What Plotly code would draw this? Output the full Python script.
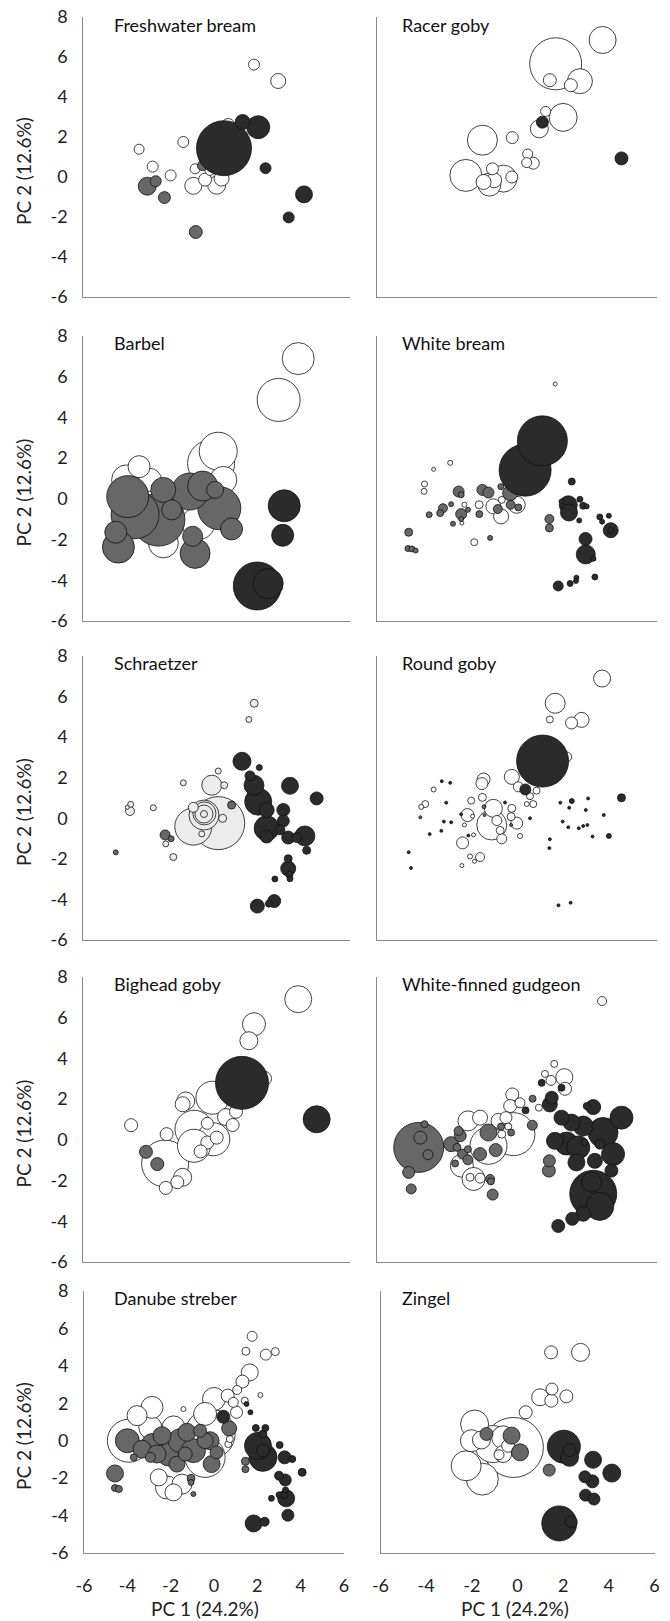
import plotly.graph_objects as go

# ---------------- data: (PC1, PC2, bubble size) per panel and group ----------------
PANELS = ["Freshwater bream", "Racer goby", "Barbel", "White bream", "Schraetzer",
          "Round goby", "Bighead goby", "White-finned gudgeon", "Danube streber", "Zingel"]

FB_WHITE = [(1.68,5.62,11),(2.77,4.80,15),(-3.49,1.39,10),(-1.50,1.75,11),(-2.88,0.52,11),(-2.07,0.08,11),
            (-0.97,0.41,10),(-1.05,-0.44,17),(-0.52,-0.13,13),(0.0,-0.41,18),(0.22,-0.08,15),(0.52,2.6,13),(-0.3,0.33,10)]
FB_GRAY = [(-3.12,-0.46,18),(-2.74,-0.21,11),(-2.35,-1.03,12),(-0.94,-2.75,13),(-0.64,0.57,10)]
FB_DARK = [(0.33,1.44,55),(1.17,2.75,15),(1.87,2.49,23),(2.2,0.44,11),(3.93,-0.87,17),(3.24,-2.02,11)]

RG_WHITE = [(3.68,6.85,27),(1.67,5.66,52),(2.71,4.79,25),(1.42,4.84,13),(2.32,4.59,13),(1.99,2.98,28),(1.24,3.28,10),
            (0.97,2.41,18),(-1.47,1.84,30),(-0.19,1.97,12),(0.47,1.15,10),(0.43,0.72,10),(0.71,0.69,12),(-2.18,0.08,32),
            (-0.57,-0.08,27),(-1.17,-0.38,23),(-1.04,0.41,12),(-0.97,-0.16,15),(-0.21,0.0,12),(-1.42,-0.25,15)]
RG_GRAY = []
RG_DARK = [(1.10,2.74,12),(4.49,0.93,13)]

BA_WHITE = [(3.67,6.89,32),(2.79,4.86,43),(0.07,2.34,38),(-0.25,1.74,47),(-3.49,1.58,22),(-3.0,0.93,23),(-4.05,0.93,30),
            (-2.4,-2.16,30),(-0.82,-1.19,33),(0.3,0.93,27)]
BA_GRAY = [(-4.0,0.11,42),(-3.67,-0.78,48),(-2.62,-1.02,53),(-2.4,0.44,25),(-2.02,-0.54,20),(-1.2,0.36,37),(-0.63,0.63,30),
           (0.12,-0.46,43),(0.67,-1.48,22),(-4.54,-1.64,22),(-4.42,-2.37,32),(-1.08,-1.84,20),(-0.97,-2.68,30),(-0.07,0.44,17)]
BA_DARK = [(1.83,-4.28,48),(2.32,-4.16,30),(3.04,-0.34,32),(2.97,-1.79,22)]

WB_WHITE = [(1.65,5.64,4),(-2.85,1.77,5),(-3.56,1.45,4),(-3.95,0.73,6),(-3.97,0.37,6),(-2.24,-0.29,5),(-2.35,-1.19,4),
            (-1.82,-2.13,7),(-1.61,-0.29,8),(-1.0,-0.37,15),(-0.67,-0.86,15),(0.0,-0.29,17),(-0.64,-0.05,7)]
WB_GRAY = [(-4.63,-1.64,8),(-4.66,-2.44,6),(-4.49,-2.46,6),(-4.33,-2.54,5),(-3.75,-0.78,6),(-3.16,-0.46,9),(-3.28,-0.7,7),
           (-2.81,-0.26,5),(-2.73,-1.22,5),(-2.49,0.36,11),(-2.38,0.2,6),(-2.38,-0.75,11),(-2.38,-0.99,5),(-2.09,-0.54,5),
           (-1.6,-0.75,7),(-1.47,0.44,11),(-1.21,0.31,11),(-0.68,0.6,6),(-0.28,0.28,15),(-0.26,-0.29,9),(-0.81,-0.5,9),
           (0.07,-0.42,7),(-1.14,-1.92,5),(1.4,-0.99,9),(1.4,-1.43,8)]
WB_DARK = [(1.1,2.85,50),(0.36,1.41,52),(2.36,0.85,7),(2.21,-0.29,18),(2.24,-0.67,17),(2.71,-0.02,6),(2.85,-0.34,7),
           (3.0,-0.37,5),(1.92,-0.13,5),(2.68,-1.06,5),(3.56,-0.89,6),(3.66,-1.12,5),(3.95,-0.83,5),(4.03,-1.54,15),
           (4.03,-1.54,6),(2.95,-1.97,13),(2.96,-2.73,19),(3.29,-2.94,5),(3.35,-3.84,6),(2.56,-3.87,5),(2.54,-4.03,5),
           (2.29,-4.16,6),(1.78,-4.28,10)]

SC_LIGHT = [(1.69,5.67,8),(1.45,4.87,6),(0.07,2.33,6),(-1.5,1.75,6),(-0.22,1.63,20),(0.34,1.63,7),(-3.87,0.69,6),
            (-3.9,0.36,9),(-4.02,0.54,4),(-2.85,0.52,6),(-1.05,-0.41,37),(0.07,-0.24,53),(-0.55,0.24,23),(-0.57,0.16,30),
            (-0.57,0.21,18),(-0.57,0.21,7),(0.27,0.0,8),(-0.67,-0.77,6),(-2.29,-1.26,6),(-1.95,-1.91,7),(-1.05,0.54,10)]
SC_GRAY = [(-4.54,-1.68,5),(-2.32,-0.82,10),(-2.05,-1.01,6),(0.67,0.65,8)]
SC_DARK = [(1.14,2.81,18),(1.92,2.5,6),(1.5,2.09,10),(1.68,1.63,20),(1.87,0.82,27),(2.25,0.41,15),(3.3,1.6,17),
           (4.5,0.98,13),(3.0,0.41,13),(3.0,-0.13,12),(2.25,-0.49,25),(2.25,-0.9,13),(3.22,-0.95,13),(3.6,-0.95,10),
           (3.97,-0.87,20),(4.05,-1.58,8),(3.22,-1.99,8),(3.22,-2.48,15),(3.27,-2.78,7),(3.3,-2.98,6),(2.62,-2.99,6),
           (1.83,-4.33,14),(2.59,-4.08,13),(2.35,-4.21,7),(2.85,-0.57,10)]

RO_WHITE = [(3.66,6.89,17),(1.65,5.67,20),(1.42,4.87,7),(2.35,4.7,12),(2.78,4.85,15),(2.14,3.02,10),(-0.21,2.04,15),
            (-1.42,1.91,13),(-1.49,1.71,12),(0.07,1.55,10),(-3.56,1.42,5),(-3.92,0.7,7),(-4.09,0.56,5),(-1.95,0.87,7),
            (-1.47,1.03,8),(-1.0,0.49,18),(-2.11,0.16,13),(-1.07,-0.33,30),(-0.85,-0.11,10),(-0.21,0.49,8),(0.0,-0.24,12),
            (-0.24,0.08,8),(-0.71,-0.6,8),(-0.64,-1.01,10),(-2.32,-1.21,12),(-1.57,-1.91,9),(-2.0,-1.88,5),(0.14,-0.87,5),
            (0.57,1.09,7),(0.43,0.7,5),(0.71,0.7,7),(0.85,1.36,7),(-1.85,-0.82,4),(-2.35,-2.33,4),(-1.81,-2.12,4),
            (-2.24,-0.33,4),(-1.89,0.1,4)]
RO_GRAY = [(-1.4,0.57,4),(-1.38,0.16,3),(-0.24,-0.33,3),(-4.13,0.05,3)]
RO_DARK = [(1.11,2.82,52),(0.37,1.42,11),(4.49,1.01,8),(2.36,0.85,5),(3.95,-0.87,5),
           (-3.21,1.83,3),(-2.85,1.75,3),(-3.02,0.77,3),(-4.63,-1.67,3),(-4.53,-2.45,3),(-3.73,-0.78,3),(-3.23,-0.62,3),
           (-3.12,-0.16,3),(-2.81,-0.2,3),(-2.38,0.2,3),(-2.07,-0.85,3),(-0.5,0.78,3),(0.57,0.0,3),(1.42,-1.03,3),
           (1.4,-1.47,3),(1.87,0.77,3),(2.25,0.52,3),(1.97,-0.16,3),(2.21,-0.44,3),(2.66,-0.49,3),(2.85,-0.38,3),
           (3.03,-0.33,3),(2.96,0.41,3),(3.06,0.98,3),(3.73,0.16,3),(3.25,-0.9,3),(1.79,-4.29,3),(2.31,-4.16,3)]

BG_WHITE = [(3.67,6.91,27),(1.68,5.68,23),(1.45,4.87,18),(2.13,3.01,15),(-0.19,2.07,33),(-1.39,1.91,18),(-1.53,1.75,15),
            (-3.85,0.72,13),(-2.25,0.28,13),(-1.02,0.52,38),(-0.42,0.81,12),(0.72,0.73,13),(0.87,1.38,13),(0.42,1.12,17),
            (-0.15,0.03,33),(-1.02,-0.29,33),(-0.42,-0.13,13),(-0.72,-0.57,13),(-2.32,-1.16,47),(-1.53,-1.84,18),
            (-1.77,-2.08,13),(-2.29,-2.36,13),(0.0,0.11,13)]
BG_GRAY = [(-3.18,-0.59,13),(-2.67,-1.19,13)]
BG_DARK = [(1.14,2.8,53),(4.5,1.01,27)]

WG_WHITE = [(3.66,6.82,9),(1.61,3.73,7),(2.04,3.08,17),(1.21,3.24,7),(1.47,2.92,10),(2.07,2.51,13),(-0.19,2.23,13),
            (-0.28,1.66,13),(0.14,1.82,10),(0.95,1.58,7),(-2.09,0.93,20),(-1.57,1.09,15),(-0.78,0.93,15),(-0.46,1.09,12),
            (-0.14,0.28,43),(-1.21,-0.29,37),(-2.35,-1.27,23),(-1.85,-1.92,23),(-2.0,-1.84,8),(-1.57,-1.88,10),
            (-0.64,0.28,8),(-0.36,0.65,7)]
WG_GRAY = [(-4.2,-0.37,50),(-4.13,0.11,13),(-3.8,-0.73,10),(-3.95,0.77,7),(-4.63,-1.6,12),(-4.52,-2.41,10),(-2.81,-0.21,15),
           (-2.42,0.2,12),(-2.49,0.44,9),(-2.56,-0.37,8),(-2.09,-0.46,7),(-2.32,-0.7,10),(-2.09,-0.98,10),(-2.64,-1.16,7),
           (-1.57,-0.7,13),(-1.21,0.36,17),(-0.9,-0.5,13),(-0.67,0.65,7),(-0.24,0.36,7),(0.67,0.72,10),(0.68,2.02,7),
           (1.4,-1.03,12),(1.38,-1.51,13),(-1.14,-1.92,9),(-1.03,-2.69,11),(-1.11,-2.04,7)]
WG_DARK = [(1.92,2.56,7),(1.07,2.8,7),(0.38,1.45,7),(1.5,2.07,13),(1.42,1.74,15),(3.28,1.61,15),(4.49,1.09,23),
           (1.92,1.09,15),(2.35,0.85,17),(2.85,0.68,20),(3.7,0.36,30),(2.14,-0.18,23),(2.64,-0.37,23),(3.56,-0.21,10),
           (4.13,-0.7,23),(3.35,-1.03,15),(4.06,-1.51,13),(2.9,-0.13,7),(3.28,-2.65,47),(3.56,-3.27,28),(3.21,-2.08,20),
           (2.38,-3.88,13),(1.78,-4.23,13),(2.85,-3.63,15),(2.56,-1.11,17),(1.64,-0.05,17),(3.0,1.66,7)]

DS_WHITE = [(1.76,5.58,10),(1.47,4.78,8),(2.39,4.6,11),(2.83,4.76,8),(1.65,3.65,17),(1.31,3.16,13),(1.07,2.71,9),
            (2.14,2.44,5),(0.0,2.23,23),(0.63,2.41,13),(0.89,2.05,10),(1.04,1.52,12),(1.42,2.14,7),(-1.41,1.69,5),
            (-2.86,1.78,22),(-3.55,1.34,20),(-3.93,0.0,43),(-2.94,0.71,23),(-1.87,0.71,23),(-0.41,1.43,23),(-0.18,0.36,50),
            (-0.41,-0.89,40),(-2.17,-2.5,23),(-1.48,-2.32,20),(-1.87,-2.76,17),(-2.55,-1.96,17),(0.66,-0.18,7),(0.73,0.09,7)]
DS_GRAY = [(-4.57,-1.75,17),(-4.57,-2.53,7),(-4.39,-2.58,7),(-4.0,0.0,24),(-3.7,-0.89,7),(-3.32,-0.45,18),(-2.86,-0.18,21),
           (-2.4,0.27,18),(-2.09,-0.71,24),(-2.63,-0.71,18),(-2.94,-0.89,10),(-1.56,0.0,24),(-1.25,0.45,18),(-0.95,-0.53,24),
           (-0.64,0.53,13),(-0.18,0.0,18),(-0.11,-1.25,17),(0.12,-0.62,13),(-0.41,0.0,16),(0.7,0.66,15),(-1.06,-2.01,8),
           (-1.06,-2.23,6),(-0.95,-2.85,5),(1.45,-1.1,8),(1.45,-1.52,7),(-1.33,-0.71,14),(-1.71,-1.25,16)]
DS_DARK = [(0.43,1.28,13),(1.5,1.96,5),(1.68,1.52,5),(1.93,0.68,7),(2.37,0.68,7),(2.26,0.36,8),(2.03,-0.27,27),
           (2.26,-0.89,28),(2.26,-0.53,13),(3.03,-0.23,7),(3.26,-0.89,13),(3.61,-0.98,7),(4.07,-1.69,8),(3.0,-1.87,9),
           (3.29,-2.1,12),(3.3,-2.63,6),(3.26,-2.91,7),(3.0,-2.89,6),(3.33,-3.08,17),(2.65,-3.08,6),(3.41,-3.98,12),
           (1.83,-4.42,17),(2.34,-4.33,9)]

ZI_WHITE = [(1.47,4.72,13),(2.76,4.72,18),(1.51,2.76,12),(0.99,2.32,17),(1.48,2.14,13),(2.14,2.37,13),(0.36,1.52,13),
            (-1.88,0.89,28),(-2.02,0.0,22),(-2.25,-1.34,30),(-1.54,-2.05,32),(-1.07,-0.18,37),(-0.18,-0.36,60),
            (-0.63,0.18,23),(-1.58,0.04,18),(-0.63,-0.71,17),(-0.81,-0.75,10),(-0.41,-0.27,13)]
ZI_GRAY = [(-1.36,0.36,13),(-0.26,0.27,17),(0.11,-0.62,17),(1.39,-1.57,12)]
ZI_DARK = [(2.03,-0.32,33),(2.28,-0.89,18),(2.28,-0.5,13),(3.31,-1.02,17),(4.13,-1.73,18),(2.95,-1.93,12),
           (3.28,-2.17,13),(2.98,-2.91,12),(3.35,-3.12,12),(1.83,-4.42,35),(2.35,-4.33,12)]

PANEL_DATA = [
    [("#ffffff", FB_WHITE), ("#676767", FB_GRAY), ("#2b2b2b", FB_DARK)],
    [("#ffffff", RG_WHITE), ("#676767", RG_GRAY), ("#2b2b2b", RG_DARK)],
    [("#ffffff", BA_WHITE), ("#676767", BA_GRAY), ("#2b2b2b", BA_DARK)],
    [("#ffffff", WB_WHITE), ("#676767", WB_GRAY), ("#2b2b2b", WB_DARK)],
    [("#ececec", SC_LIGHT), ("#676767", SC_GRAY), ("#2b2b2b", SC_DARK)],
    [("#ffffff", RO_WHITE), ("#676767", RO_GRAY), ("#2b2b2b", RO_DARK)],
    [("#ffffff", BG_WHITE), ("#676767", BG_GRAY), ("#2b2b2b", BG_DARK)],
    [("#ffffff", WG_WHITE), ("#676767", WG_GRAY), ("#2b2b2b", WG_DARK)],
    [("#ffffff", DS_WHITE), ("#676767", DS_GRAY), ("#2b2b2b", DS_DARK)],
    [("#ffffff", ZI_WHITE), ("#676767", ZI_GRAY), ("#2b2b2b", ZI_DARK)],
]

X_TICKS = [-6, -4, -2, 0, 2, 4, 6]
X_TICK_TEXT = ["-6", "-4", "-2", "0", "2", "4", "6"]
Y_TICKS = [-6, -4, -2, 0, 2, 4, 6, 8]
Y_TICK_TEXT = ["-6", "-4", "-2", "0", "2", "4", "6", "8"]
X_TITLE = "PC 1 (24.2%)"
Y_TITLE = "PC 2 (12.6%)"

# ---------------- layout geometry (pixels) ----------------
W, H = 670, 1621
ROW_TOP = [17, 336, 656, 977, 1291]
ROW_BOT = [297, 621, 940, 1262, 1553]
COL_X = [[(83.3, 350), (376.7, 656.7)]] * 4 + [[(84, 344), (380.5, 654.5)]]
FONT = "Lato, Carlito, 'Liberation Sans', sans-serif"
FS = 18
TXT = "#222222"

def px(xp):
    return xp / W

def py(yp):
    return 1 - yp / H

fig = go.Figure()
layout = dict(width=W, height=H, margin=dict(l=0, r=0, t=0, b=0, pad=0),
              paper_bgcolor="white", plot_bgcolor="white", showlegend=False,
              font=dict(family=FONT, size=FS, color=TXT))
annotations = []

for i, groups in enumerate(PANEL_DATA):
    r, c = divmod(i, 2)
    n = "" if i == 0 else str(i + 1)
    x0, x1 = COL_X[r][c]
    xa = dict(domain=[px(x0), px(x1)], range=[-6, 6], tickvals=X_TICKS, ticktext=X_TICK_TEXT,
              showgrid=False, zeroline=False, automargin=False,
              showline=True, linecolor="#8a8a8a", linewidth=1, ticks="",
              showticklabels=(r == 4), ticklabelstandoff=16,
              tickfont=dict(family=FONT, size=FS, color=TXT),
              anchor="y" + n, fixedrange=True)
    ya = dict(domain=[py(ROW_BOT[r]), py(ROW_TOP[r])], range=[-6, 8], tickvals=Y_TICKS, ticktext=Y_TICK_TEXT,
              showgrid=False, zeroline=False, automargin=False,
              showline=True, linecolor="#8a8a8a", linewidth=1, ticks="",
              showticklabels=(c == 0), ticklabelstandoff=11,
              tickfont=dict(family=FONT, size=FS, color=TXT),
              anchor="x" + n, fixedrange=True)
    layout["xaxis" + n] = xa
    layout["yaxis" + n] = ya

    for color, pts in groups:
        if not pts:
            continue
        pts = sorted(pts, key=lambda p: -p[2])
        fig.add_trace(go.Scatter(
            x=[p[0] for p in pts], y=[p[1] for p in pts], mode="markers",
            xaxis="x" + n, yaxis="y" + n, hoverinfo="skip",
            marker=dict(size=[p[2] for p in pts], sizemode="diameter", color=color,
                        line=dict(color="#111111", width=0.8), opacity=1)))

    # panel title
    tx = 112 if c == 0 else 400
    ty = ROW_TOP[r] + (8 if r == 0 else 7)
    annotations.append(dict(text=PANELS[i], x=px(tx), y=py(ty), xref="paper", yref="paper",
                            xanchor="left", yanchor="middle", showarrow=False,
                            font=dict(family=FONT, size=FS, color="#111111")))
    if c == 0:
        annotations.append(dict(text=Y_TITLE, x=px(23), y=py((ROW_TOP[r] + ROW_BOT[r]) / 2 + 14),
                                xref="paper", yref="paper", xanchor="center", yanchor="middle",
                                textangle=-90, showarrow=False,
                                font=dict(family=FONT, size=FS + 1, color=TXT)))
    if r == 4:
        annotations.append(dict(text=X_TITLE, x=px(205 if c == 0 else 515), y=0,
                                xref="paper", yref="paper", xanchor="center", yanchor="bottom",
                                borderpad=0, showarrow=False,
                                font=dict(family=FONT, size=FS + 1, color=TXT)))

layout["annotations"] = annotations
fig.update_layout(**layout)
fig.write_html("out.html", config={"displayModeBar": False, "responsive": False},
               post_script="document.body.style.margin='0';document.body.style.padding='0';"
                           "document.documentElement.style.margin='0';document.body.style.overflow='hidden';")
